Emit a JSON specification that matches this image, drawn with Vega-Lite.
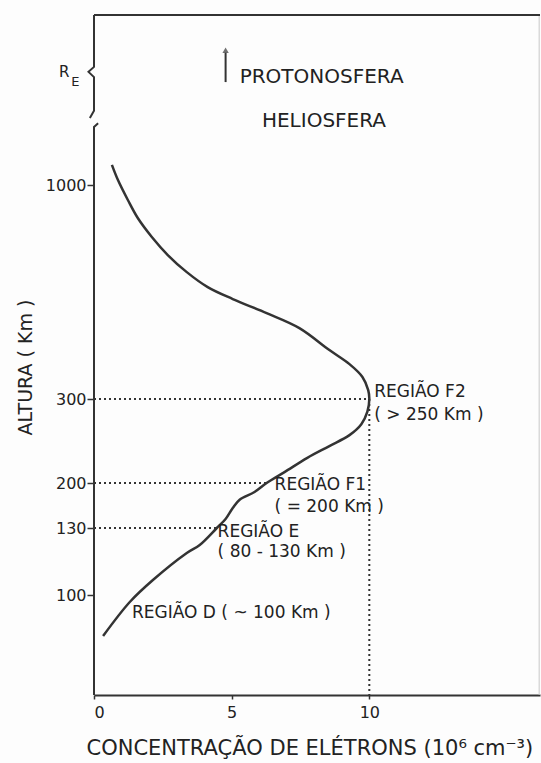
{
  "$schema": "https://vega.github.io/schema/vega-lite/v6.json",
  "autosize": {"type": "none"},
  "width": 446,
  "height": 680,
  "padding": {"left": 94, "top": 15, "right": 1, "bottom": 68},
  "background": "#fdfdfd",
  "config": {"view": {"stroke": null}, "font": "DejaVu Sans"},
  "datasets": {
    "curve": [
      {"o": 1, "c": 0.33, "h": 79.5}, {"o": 2, "c": 1.30, "h": 96.5}, {"o": 3, "c": 2.14, "h": 106.7},
      {"o": 4, "c": 3.37, "h": 118.8}, {"o": 5, "c": 3.84, "h": 122.4}, {"o": 6, "c": 4.46, "h": 130},
      {"o": 7, "c": 4.78, "h": 144}, {"o": 8, "c": 5.04, "h": 161}, {"o": 9, "c": 5.29, "h": 174},
      {"o": 10, "c": 5.83, "h": 186}, {"o": 11, "c": 6.27, "h": 200}, {"o": 12, "c": 6.92, "h": 213},
      {"o": 13, "c": 7.75, "h": 230}, {"o": 14, "c": 8.55, "h": 244}, {"o": 15, "c": 9.28, "h": 257},
      {"o": 16, "c": 9.71, "h": 270}, {"o": 17, "c": 9.93, "h": 285}, {"o": 18, "c": 10.0, "h": 300},
      {"o": 19, "c": 9.96, "h": 329}, {"o": 20, "c": 9.75, "h": 372}, {"o": 21, "c": 9.28, "h": 414},
      {"o": 22, "c": 8.55, "h": 460}, {"o": 23, "c": 7.46, "h": 532}, {"o": 24, "c": 6.27, "h": 581},
      {"o": 25, "c": 5.04, "h": 627}, {"o": 26, "c": 4.13, "h": 666}, {"o": 27, "c": 3.37, "h": 715},
      {"o": 28, "c": 2.68, "h": 771}, {"o": 29, "c": 2.10, "h": 830}, {"o": 30, "c": 1.59, "h": 892},
      {"o": 31, "c": 1.23, "h": 951}, {"o": 32, "c": 0.87, "h": 1016}, {"o": 33, "c": 0.65, "h": 1065}
    ],
    "guides": [
      {"g": "a", "o": 1, "c": 0, "h": 300}, {"g": "a", "o": 2, "c": 10, "h": 300},
      {"g": "b", "o": 1, "c": 0, "h": 200}, {"g": "b", "o": 2, "c": 6.27, "h": 200},
      {"g": "d", "o": 1, "c": 0, "h": 130}, {"g": "d", "o": 2, "c": 4.46, "h": 130},
      {"g": "v", "o": 1, "c": 10, "h": 300}, {"g": "v", "o": 2, "c": 10, "h": 50}
    ],
    "frame": [
      {"g": "L", "o": 1, "c": 0, "h": 50}, {"g": "L", "o": 2, "c": 0, "h": 1188}, {"g": "L", "o": 3, "c": 0.15, "h": 1200},
      {"g": "B", "o": 1, "c": 0, "h": 1550}, {"g": "B", "o": 2, "c": 0, "h": 1382}, {"g": "B", "o": 3, "c": -0.2, "h": 1366},
      {"g": "B", "o": 4, "c": 0, "h": 1349}, {"g": "B", "o": 5, "c": 0, "h": 1240}, {"g": "B", "o": 6, "c": -0.15, "h": 1217},
      {"g": "T", "o": 1, "c": 0, "h": 1550}, {"g": "T", "o": 2, "c": 16.2, "h": 1550},
      {"g": "A", "o": 1, "c": 4.78, "h": 1333}, {"g": "A", "o": 2, "c": 4.78, "h": 1428}
    ],
    "border": [
      {"o": 1, "c": 16.17, "h": 1550}, {"o": 2, "c": 16.17, "h": 50}
    ],
    "labels": [
      {"t": "REGIÃO F2", "c": 10.18, "h": 323, "s": 17},
      {"t": "( > 250 Km )", "c": 10.18, "h": 281, "s": 17},
      {"t": "REGIÃO F1", "c": 6.56, "h": 197, "s": 17},
      {"t": "( = 200 Km )", "c": 6.56, "h": 163, "s": 17},
      {"t": "REGIÃO E", "c": 4.49, "h": 128.2, "s": 17},
      {"t": "( 80 - 130 Km )", "c": 4.49, "h": 119.3, "s": 17},
      {"t": "REGIÃO D ( ~ 100 Km )", "c": 1.38, "h": 91, "s": 17},
      {"t": "PROTONOSFERA", "c": 5.29, "h": 1349, "s": 20},
      {"t": "HELIOSFERA", "c": 6.1, "h": 1207, "s": 20},
      {"t": "R", "c": -1.27, "h": 1366, "s": 15},
      {"t": "E", "c": -0.83, "h": 1333, "s": 13}
    ],
    "arrow": [{"c": 4.78, "h": 1436}]
  },
  "encoding": {
    "x": {
      "field": "c", "type": "quantitative",
      "scale": {"domain": [0, 16.2], "nice": false, "zero": false},
      "axis": {
        "values": [0, 5, 10], "grid": false, "domainColor": "#333", "domainWidth": 2,
        "tickColor": "#333", "tickSize": 4, "tickWidth": 1.5,
        "labelFont": "DejaVu Sans", "labelFontSize": 16, "labelColor": "#222", "labelPadding": 5,
        "title": "CONCENTRAÇÃO DE ELÉTRONS (10⁶ cm⁻³)", "titleFont": "DejaVu Sans", "titleFontSize": 21,
        "titleFontWeight": "normal", "titleColor": "#222", "titleAnchor": "start", "titleAlign": "left",
        "titleX": -8, "titleY": 53, "titleBaseline": "middle"
      }
    },
    "y": {
      "field": "h", "type": "quantitative",
      "scale": {"domain": [50, 100, 130, 200, 300, 1000, 1550], "range": [680, 580, 513, 468, 384, 170, 0], "nice": false, "zero": false},
      "axis": {
        "values": [100, 130, 200, 300, 1000], "format": "d", "grid": false, "domain": false,
        "tickColor": "#333", "tickSize": 7, "tickWidth": 1.5,
        "labelFont": "DejaVu Sans", "labelFontSize": 16, "labelColor": "#222", "labelPadding": 1,
        "title": "ALTURA ( Km )", "titleFont": "DejaVu Sans", "titleFontSize": 19, "titleFontWeight": "normal",
        "titleColor": "#222", "titleAngle": -90, "titleX": -69, "titleY": 352, "titleAlign": "center", "titleBaseline": "middle"
      }
    }
  },
  "layer": [
    {
      "data": {"name": "border"},
      "mark": {"type": "line", "color": "#c8c8c8", "strokeWidth": 1},
      "encoding": {"order": {"field": "o"}}
    },
    {
      "data": {"name": "guides"},
      "mark": {"type": "line", "color": "#333", "strokeWidth": 2, "strokeDash": [2, 3]},
      "encoding": {"detail": {"field": "g"}, "order": {"field": "o"}}
    },
    {
      "data": {"name": "frame"},
      "mark": {"type": "line", "color": "#333", "strokeWidth": 2},
      "encoding": {"detail": {"field": "g"}, "order": {"field": "o"}}
    },
    {
      "data": {"name": "curve"},
      "mark": {"type": "line", "color": "#333", "strokeWidth": 2.5, "interpolate": "catmull-rom"},
      "encoding": {"order": {"field": "o"}}
    },
    {
      "data": {"name": "arrow"},
      "mark": {"type": "point", "shape": "triangle-up", "filled": true, "color": "#333", "size": 40}
    },
    {
      "data": {"name": "labels"},
      "mark": {"type": "text", "align": "left", "baseline": "middle", "color": "#222", "font": "DejaVu Sans"},
      "encoding": {"text": {"field": "t"}, "size": {"field": "s", "type": "quantitative", "scale": null}}
    }
  ]
}
